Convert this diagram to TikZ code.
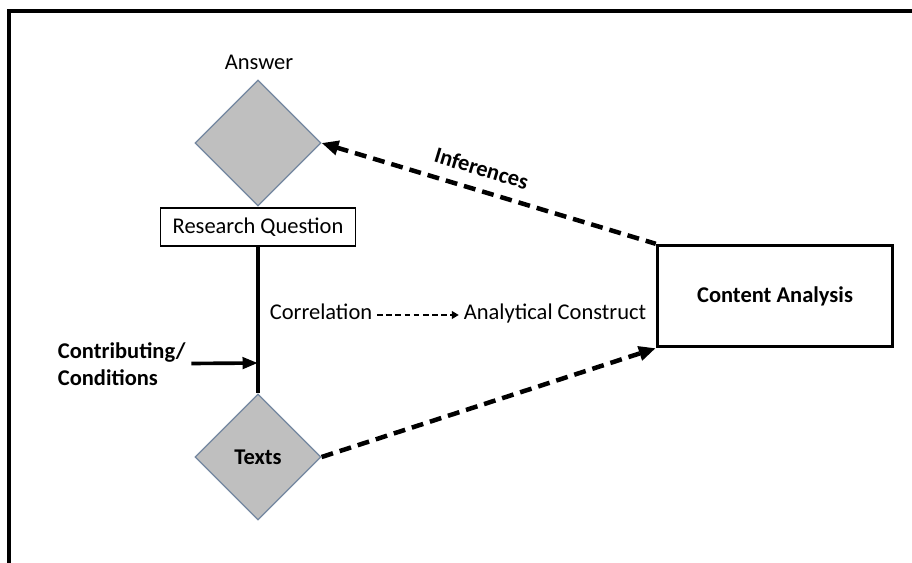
\documentclass[tikz,border=0pt]{standalone}
\usepackage{fontspec}
\setmainfont{Carlito}
\usepackage{tikz}
\usetikzlibrary{arrows.meta,positioning,shapes.geometric}
\definecolor{diafill}{RGB}{191,191,191}
\definecolor{diaedge}{RGB}{115,135,160}
\newcommand{\fs}{\fontsize{16}{19}\selectfont}

\begin{document}
\begin{tikzpicture}[x=0.025cm,y=-0.025cm,font=\fs,
  >={Triangle[length=12pt,width=10pt]},
  dia/.style={draw=diaedge,fill=diafill,diamond,aspect=1,inner sep=0pt,
    minimum width=3.15cm,minimum height=3.15cm,line width=0.8pt},
  box/.style={draw,rectangle,inner sep=2pt},
  lbl/.style={text height=1.6ex,text depth=0.4ex},
  dsh/.style={dash pattern=on 8.5pt off 5pt,line width=3.2pt},
  arr/.style={line width=2.6pt,-{Triangle[length=11pt,width=8pt]}}]
  \useasboundingbox (0,0) rectangle (912,563);
  \draw[line width=2.2pt] (9,563) -- (9,11) -- (912,11);

  \node[dia] (answer) at (258,143) {};
  \node (anslbl) at (259,62) {Answer};
  \node[box,line width=1pt,minimum width=4.875cm,minimum height=0.95cm]
    (rq) at (258,227) {Research Question};
  \node[dia,font=\fs\bfseries] (texts) at (258,457) {Texts};
  \node[box,line width=2.4pt,minimum width=5.875cm,minimum height=2.525cm,
    font=\fs\bfseries] (ca) at (775,296) {Content Analysis};
  \node[lbl] (corr) at (321,315) {Correlation};
  \node[lbl] (anal) at (555,315) {Analytical Construct};
  \node[anchor=west,align=left,font=\fs\bfseries,inner sep=4pt]
    (contrib) at (52,364) {Contributing/\\Conditions};
  \coordinate (join) at (258,363);

  \draw[line width=2.8pt] (rq) -- (texts);
  \draw[arr] (contrib) -- (join);
  \draw[dash pattern=on 4pt off 2.5pt,line width=1.5pt,
    -{Triangle[length=5pt,width=5.5pt]}] (corr) -- (anal);
  \draw[dsh,<-] (answer.east) -- node[pos=0.46,sloped,above=5pt,
    font=\fs\bfseries] {Inferences} (ca.north west);
  \draw[dsh,->] (texts.east) -- (ca.south west);
\end{tikzpicture}
\end{document}
